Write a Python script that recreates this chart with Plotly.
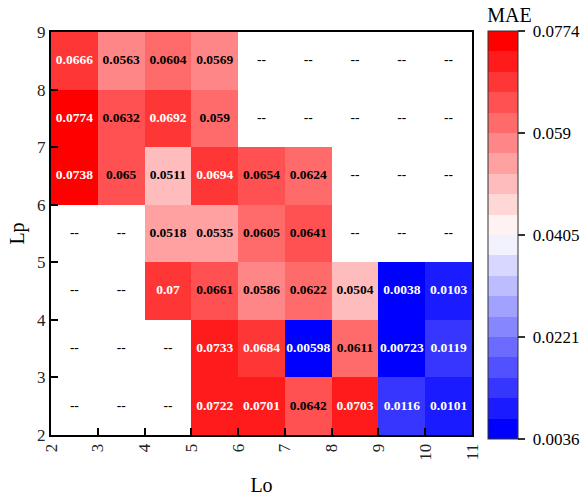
import plotly.graph_objects as go

# Grid edges for the two window-length parameters
lo_edges = [2, 3, 4, 5, 6, 7, 8, 9, 10, 11]
lp_edges = [2, 3, 4, 5, 6, 7, 8, 9]

# MAE per (Lp row, Lo column); rows listed from Lp 2-3 up to Lp 8-9, None = not evaluated
mae_lp2 = [None, None, None, 0.0722, 0.0701, 0.0642, 0.0703, 0.0116, 0.0101]
mae_lp3 = [None, None, None, 0.0733, 0.0684, 0.00598, 0.0611, 0.00723, 0.0119]
mae_lp4 = [None, None, 0.07, 0.0661, 0.0586, 0.0622, 0.0504, 0.0038, 0.0103]
mae_lp5 = [None, None, 0.0518, 0.0535, 0.0605, 0.0641, None, None, None]
mae_lp6 = [0.0738, 0.065, 0.0511, 0.0694, 0.0654, 0.0624, None, None, None]
mae_lp7 = [0.0774, 0.0632, 0.0692, 0.059, None, None, None, None, None]
mae_lp8 = [0.0666, 0.0563, 0.0604, 0.0569, None, None, None, None, None]

# Colour-bar range and tick labels
mae_min, mae_max = 0.0036, 0.0774
cbar_ticks = [0.0036, 0.0221, 0.0405, 0.059, 0.0774]
cbar_ticktext = ["0.0036", "0.0221", "0.0405", "0.059", "0.0774"]

z = [mae_lp2, mae_lp3, mae_lp4, mae_lp5, mae_lp6, mae_lp7, mae_lp8]

FONT = "Liberation Serif, Times New Roman, serif"
N_LEVELS = 20


def level_color(k):
    # blue -> white -> red, split into N_LEVELS flat steps
    half = (N_LEVELS - 1) / 2
    if k <= half:
        v = round(255 * k / half)
        return f"rgb({v},{v},255)"
    v = round(255 * (N_LEVELS - 1 - k) / half)
    return f"rgb(255,{v},{v})"


colorscale = []
for k in range(N_LEVELS):
    c = level_color(k)
    colorscale.append([k / N_LEVELS, c])
    colorscale.append([(k + 1) / N_LEVELS, c])


def level_of(v):
    k = int((v - mae_min) / ((mae_max - mae_min) / N_LEVELS))
    return min(max(k, 0), N_LEVELS - 1)


# Cell labels, centred in each brick
tx, ty, tt, tc = [], [], [], []
for i, row in enumerate(z):
    yc = (lp_edges[i] + lp_edges[i + 1]) / 2
    for j, v in enumerate(row):
        xc = (lo_edges[j] + lo_edges[j + 1]) / 2
        tx.append(xc)
        ty.append(yc)
        if v is None:
            tt.append("--")
            tc.append("black")
        else:
            tt.append(f"{v:.3g}")
            k = level_of(v)
            tc.append("white" if (k >= 17 or k <= 4) else "black")

# plot area in pixels: x 51..472, y 32..435
PLOT_H = 403
BAR_TOP_PX = 34.3
TITLE_BOX = 30

fig = go.Figure()
fig.add_trace(go.Heatmap(
    x=lo_edges, y=lp_edges, z=z,
    zmin=mae_min, zmax=mae_max,
    colorscale=colorscale,
    xgap=0, ygap=0,
    hoverongaps=False,
    colorbar=dict(
        title=dict(text="MAE", side="top", font=dict(family=FONT, size=20, color="black")),
        tickvals=cbar_ticks, ticktext=["\u00a0" + t for t in cbar_ticktext],
        tickfont=dict(family=FONT, size=17, color="black"),
        ticks="outside", ticklen=7, tickwidth=1.5, tickcolor="#333",
        outlinewidth=1, outlinecolor="#333",
        thickness=30,
        lenmode="pixels", len=405 + TITLE_BOX,
        x=(487.7 - 51) / 421, xanchor="left", xpad=0,
        y=(435 - (BAR_TOP_PX - TITLE_BOX)) / PLOT_H, yanchor="top", ypad=0,
    ),
))
fig.add_trace(go.Scatter(
    x=tx, y=ty, text=tt, mode="text",
    textfont=dict(family=FONT, size=13.5, color=tc, weight="bold"),
    showlegend=False, hoverinfo="skip",
))

axis_common = dict(
    showline=True, linewidth=2, linecolor="black", mirror=True,
    ticks="inside", ticklen=7, tickwidth=2, tickcolor="black",
    showgrid=False, zeroline=False,
    tickfont=dict(family=FONT, size=17, color="#222"),
)
fig.update_xaxes(
    range=[lo_edges[0], lo_edges[-1]], tickvals=lo_edges, tickangle=-90,
    title=dict(text="Lo", font=dict(family=FONT, size=20, color="black"), standoff=18),
    **axis_common,
)
fig.update_yaxes(
    range=[lp_edges[0], lp_edges[-1]], tickvals=lp_edges,
    title=dict(text="Lp", font=dict(family=FONT, size=20, color="black"), standoff=7),
    **axis_common,
)
fig.update_layout(
    width=581, height=499,
    margin=dict(l=51, r=109, t=32, b=64, autoexpand=False),
    paper_bgcolor="white", plot_bgcolor="white",
    font=dict(family=FONT),
)
fig.write_html("out.html")
